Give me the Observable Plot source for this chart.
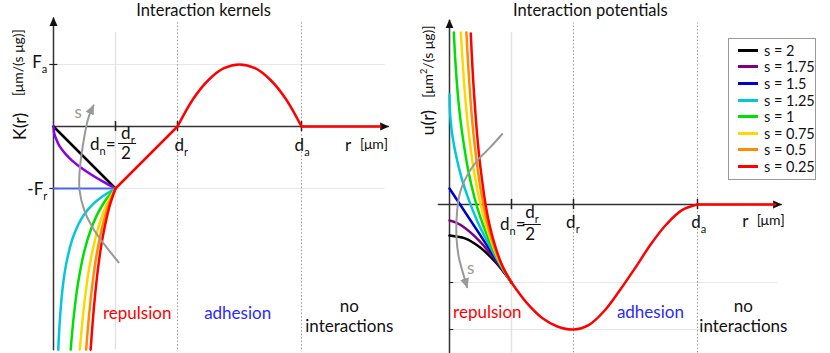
<!DOCTYPE html>
<html><head><meta charset="utf-8">
<script src="https://cdn.jsdelivr.net/npm/d3@7"></script>
<script src="https://cdn.jsdelivr.net/npm/@observablehq/plot@0.6"></script>
<style>
body{margin:0;background:#fff;}
#wrap{position:relative;width:830px;height:353px;font-family:Lato,sans-serif;overflow:hidden;background:#fff;}
#left{position:absolute;left:0;top:0;}
#right{position:absolute;left:415px;top:0;}
#legend{position:absolute;left:728px;top:38px;width:86px;height:137px;border:1px solid #999;background:#fff;box-sizing:content-box;padding-top:3px;}
.row{display:flex;align-items:center;height:16.6px;}
.sw{width:20px;height:3px;margin-left:9px;margin-right:6px;}
.lt{font-size:14.5px;color:#111;font-family:Lato,sans-serif;white-space:nowrap;}
svg{overflow:visible;}
</style></head>
<body><div id="wrap"><div id="left"></div><div id="right"></div><div id="legend"></div></div>
<script>
// ---------- landmarks ----------
const dn = 1, dr = 2, da = 4;
const Fa = 1, Fr = 1;

// ---------- series ----------
const sValues = [2, 1.75, 1.5, 1.25, 1, 0.75, 0.5, 0.25];
const legendLabels = ["s = 2", "s = 1.75", "s = 1.5", "s = 1.25", "s = 1", "s = 0.75", "s = 0.5", "s = 0.25"];
const kernelColors = ["#000000", "#8a00e6", "#4a63f0", "#00c8d8", "#00e000", "#ffd700", "#ff8c00", "#ff0000"];
const potentialColors = ["#000000", "#800080", "#0000cc", "#00c8d8", "#00e000", "#ffd700", "#ff8c00", "#ff0000"];

// kernel K(r) for r in [0, dn], one array per s  ([r, K])
const kernelS2 = [[0, 0], [1, -1]];
const kernelS175 = [[0, 0], [0.01, -0.1], [0.03, -0.17], [0.06, -0.24], [0.1, -0.32], [0.2, -0.45], [0.3, -0.55], [0.45, -0.67], [0.6, -0.77], [0.8, -0.89], [1, -1]];
const kernelS15 = [[0, -1], [1, -1]];
const kernelS125 = [[0.077, -3.6], [0.09, -3.33], [0.12, -2.89], [0.15, -2.58], [0.2, -2.24], [0.3, -1.83], [0.4, -1.58], [0.5, -1.41], [0.65, -1.24], [0.8, -1.12], [1, -1]];
const kernelS1 = [[0.278, -3.6], [0.3, -3.33], [0.35, -2.86], [0.4, -2.5], [0.5, -2], [0.6, -1.67], [0.7, -1.43], [0.8, -1.25], [0.9, -1.11], [1, -1]];
const kernelS075 = [[0.425, -3.6], [0.45, -3.31], [0.5, -2.83], [0.55, -2.45], [0.6, -2.15], [0.7, -1.71], [0.8, -1.4], [0.9, -1.17], [1, -1]];
const kernelS05 = [[0.527, -3.6], [0.55, -3.31], [0.6, -2.78], [0.65, -2.37], [0.7, -2.04], [0.8, -1.56], [0.9, -1.23], [1, -1]];
const kernelS025 = [[0.599, -3.6], [0.65, -2.94], [0.7, -2.44], [0.75, -2.05], [0.8, -1.75], [0.9, -1.3], [1, -1]];
// common kernel part (red)
const kernelRepulsion = [[1, -1], [2, 0]];
const kernelAdhesion = [[2, 0], [2.25, 0.44], [2.5, 0.75], [2.75, 0.94], [3, 1], [3.25, 0.94], [3.5, 0.75], [3.75, 0.44], [4, 0]];
const kernelTail = [[4, 0], [5.27, 0]];

// potential u(r) for r in [0, dn]  ([r, u])
const potS2 = [[0, -0.33], [0.1, -0.34], [0.25, -0.36], [0.5, -0.46], [0.75, -0.62], [1, -0.83]];
const potS175 = [[0, -0.17], [0.1, -0.19], [0.25, -0.25], [0.5, -0.4], [0.75, -0.6], [1, -0.83]];
const potS15 = [[0, 0.17], [1, -0.83]];
const potS125 = [[0, 1.17], [0.005, 1.03], [0.02, 0.88], [0.05, 0.72], [0.1, 0.54], [0.2, 0.27], [0.3, 0.07], [0.45, -0.18], [0.6, -0.38], [0.8, -0.62], [1, -0.83]];
const potS1 = [[0.07, 1.83], [0.1, 1.47], [0.15, 1.06], [0.2, 0.78], [0.3, 0.37], [0.4, 0.08], [0.5, -0.14], [0.65, -0.4], [0.8, -0.61], [1, -0.83]];
const potS075 = [[0.184, 1.83], [0.2, 1.64], [0.25, 1.17], [0.3, 0.82], [0.4, 0.33], [0.5, 0], [0.65, -0.35], [0.8, -0.6], [1, -0.83]];
const potS05 = [[0.273, 1.83], [0.3, 1.5], [0.35, 1.02], [0.4, 0.67], [0.5, 0.17], [0.6, -0.17], [0.7, -0.41], [0.85, -0.66], [1, -0.83]];
const potS025 = [[0.343, 1.82], [0.37, 1.46], [0.4, 1.14], [0.45, 0.71], [0.5, 0.39], [0.6, -0.07], [0.7, -0.36], [0.85, -0.65], [1, -0.83]];
// common potential part (red)
const potCommon = [[1, -0.83], [1.25, -1.05], [1.5, -1.21], [1.75, -1.3], [2, -1.33], [2.25, -1.28], [2.5, -1.13], [2.75, -0.91], [3, -0.67], [3.25, -0.42], [3.5, -0.21], [3.75, -0.06], [4, 0]];
const potTail = [[4, 0], [5.25, 0]];
const uRepulsionLevel = -0.83, uMin = -1.33;

// gray "s" arcs
const kernelArc = [[1.05, -2.19], [0.81, -1.89], [0.63, -1.63], [0.5, -1.36], [0.42, -1.03], [0.42, -0.74], [0.45, -0.47], [0.5, -0.15], [0.56, 0.13], [0.645, 0.34]];
const potArc = [[0.85, 0.75], [0.66, 0.61], [0.45, 0.47], [0.285, 0.31], [0.18, 0.15], [0.124, -0.06], [0.113, -0.35], [0.15, -0.56], [0.205, -0.7], [0.285, -0.88]];

const kernelCurves = [kernelS2, kernelS175, kernelS15, kernelS125, kernelS1, kernelS075, kernelS05, kernelS025];
const potCurves = [potS2, potS175, potS15, potS125, potS1, potS075, potS05, potS025];

// ---------- annotations ----------
const kernelLabels = [
  {t: "Interaction kernels", r: 2.42, v: 1.87, size: 16.5},
  {t: "F_{a}", r: -0.1, v: 1.03, anchor: "end", size: 17},
  {t: "-F_{r}", r: -0.1, v: -1.02, anchor: "end", size: 17},
  {t: "K(r)", r: -0.53, v: 0.0, rotate: -90, size: 18},
  {t: "[μm/(s μg)]", r: -0.56, v: 1.03, rotate: -90, size: 14},
  {t: "d_{n}=", r: 1.0, v: -0.29, anchor: "end", size: 17},
  {t: "d_{r}", r: 1.2, v: -0.11, size: 17},
  {t: "2", r: 1.17, v: -0.43, size: 17},
  {t: "d_{r}", r: 2.06, v: -0.31, size: 17},
  {t: "d_{a}", r: 4.01, v: -0.31, size: 17},
  {t: "r", r: 4.75, v: -0.3, size: 17},
  {t: "[μm]", r: 5.17, v: -0.29, size: 14},
  {t: "s", r: 0.40, v: 0.23, color: "#999", size: 17},
  {t: "repulsion", r: 1.35, v: -3.02, color: "#ff0000", size: 17},
  {t: "adhesion", r: 2.97, v: -3.02, color: "#2a2aff", size: 17},
  {t: "no\ninteractions", r: 4.77, v: -3.05, lh: 1.18, size: 17}
];
const potLabels = [
  {t: "Interaction potentials", r: 2.27, v: 2.06, size: 16.5},
  {t: "u(r)", r: -0.35, v: 0.87, rotate: -90, size: 18},
  {t: "[μm^{2}/(s μg)]", r: -0.34, v: 1.52, rotate: -90, size: 14},
  {t: "d_{n}=", r: 1.226, v: -0.213, anchor: "end", size: 17},
  {t: "d_{r}", r: 1.33, v: -0.09, size: 17},
  {t: "2", r: 1.3, v: -0.32, size: 17},
  {t: "d_{r}", r: 1.99, v: -0.19, size: 17},
  {t: "d_{a}", r: 4.02, v: -0.19, size: 17},
  {t: "r", r: 4.77, v: -0.18, size: 17},
  {t: "[μm]", r: 5.18, v: -0.17, size: 14},
  {t: "s", r: 0.34, v: -0.68, color: "#999", size: 17},
  {t: "repulsion", r: 0.61, v: -1.15, color: "#ff0000", size: 17},
  {t: "adhesion", r: 3.24, v: -1.15, color: "#2a2aff", size: 17},
  {t: "no\ninteractions", r: 4.74, v: -1.18, lh: 1.18, size: 17}
];

// ---------- helpers ----------
const AXIS = "#333333", ARC = "#999999";
function lbl(d) {
  return Plot.text([d], {x: "r", y: "v", text: "t", textAnchor: d.anchor ?? "middle",
    fontSize: d.size ?? 15, fill: d.color ?? "#111", rotate: d.rotate ?? 0, lineHeight: d.lh ?? 1,
    fontFamily: "Lato, sans-serif"});
}
function curve(data, color, w = 2.5, c = "catmull-rom") {
  return Plot.line(data, {stroke: color, strokeWidth: w, curve: c});
}
function richify(svg) {
  d3.select(svg).selectAll("text").each(function () {
    const s = this.textContent;
    if (!/[_^]\{/.test(s)) return;
    const parts = s.split(/([_^]\{[^}]*\})/).filter(p => p.length);
    while (this.firstChild) this.removeChild(this.firstChild);
    let shift = 0;
    for (const p of parts) {
      const m = /^([_^])\{([^}]*)\}$/.exec(p);
      const ts = d3.select(this).append("tspan");
      if (m) {
        const target = m[1] === "_" ? 0.28 : -0.45;
        ts.attr("font-size", "65%").attr("dy", ((target - shift) / 0.65).toFixed(3) + "em").text(m[2]);
        shift = target;
      } else {
        if (shift !== 0) ts.attr("dy", (-shift).toFixed(3) + "em");
        shift = 0;
        ts.text(p);
      }
    }
  });
}
let mk = 0;
function arrowheads(svg) {
  const defs = d3.select(svg).insert("defs", ":first-child");
  const add = (col, size) => {
    const id = "tri" + (mk++);
    defs.append("marker").attr("id", id).attr("viewBox", "0 -5 10 10").attr("refX", 9).attr("refY", 0)
      .attr("markerWidth", size).attr("markerHeight", size).attr("markerUnits", "userSpaceOnUse").attr("orient", "auto")
      .append("path").attr("d", "M0,-4.5L10,0L0,4.5Z").attr("fill", col);
    return id;
  };
  const a = add("#111", 9), g = add(ARC, 10);
  d3.select(svg).selectAll(`g[stroke="${AXIS}"] path`).attr("marker-end", `url(#${a})`);
  d3.select(svg).selectAll(`g[stroke="${ARC}"] path`).attr("marker-end", `url(#${g})`);
}

// ---------- left: kernels ----------
const left = Plot.plot({
  width: 415, height: 353,
  marginLeft: 53, marginRight: 27.2, marginTop: 17.5, marginBottom: 3.8,
  x: {domain: [0, 5.4], axis: null},
  y: {domain: [-3.6, 1.75], axis: null},
  style: {fontFamily: "Lato, sans-serif", background: "transparent", overflow: "visible"},
  marks: [
    Plot.ruleY([Fa, -Fr], {x1: 0, x2: 5.35, stroke: "#e8e8e8", strokeWidth: 1}),
    Plot.ruleX([dn], {y1: -3.6, y2: 1.52, stroke: "#e2e2e2", strokeWidth: 1.5}),
    Plot.ruleX([dr, da], {y1: -3.6, y2: 1.71, stroke: "#9a9a9a", strokeWidth: 1, strokeDasharray: "1.5,2"}),
    Plot.line([[0, 0], [5.4, 0]], {stroke: AXIS, strokeWidth: 1.5}),
    Plot.line([[0, -3.6], [0, 1.75]], {stroke: AXIS, strokeWidth: 1.5}),
    Plot.ruleX([dn, dr, da], {y1: -0.08, y2: 0.08, stroke: "#222", strokeWidth: 1.5}),
    Plot.ruleY([Fa, -Fr], {x1: -0.06, x2: 0.07, stroke: "#222", strokeWidth: 1.2}),
    ...kernelCurves.map((d, i) => curve(d, kernelColors[i], i === 2 ? 2 : 2.5)),
    curve(kernelRepulsion, "#ff0000", 2.5, "linear"),
    curve(kernelAdhesion, "#ff0000", 2.5),
    curve(kernelTail, "#ff0000", 2.5, "linear"),
    Plot.line(kernelArc, {stroke: ARC, strokeWidth: 2, curve: "catmull-rom"}),
    Plot.ruleY([-0.274], {x1: 1.05, x2: 1.34, stroke: "#111", strokeWidth: 1}),
    ...kernelLabels.map(lbl)
  ]
});
richify(left); arrowheads(left);
document.getElementById("left").appendChild(left);

// ---------- right: potentials ----------
const right = Plot.plot({
  width: 415, height: 353,
  marginLeft: 34, marginRight: 49.3, marginTop: 19.76, marginBottom: 0.48,
  x: {domain: [0, 5.35], axis: null},
  y: {domain: [-1.58, 1.96], axis: null},
  style: {fontFamily: "Lato, sans-serif", background: "transparent", overflow: "visible"},
  marks: [
    Plot.ruleY([uRepulsionLevel, uMin], {x1: 0, x2: 5.3, stroke: "#e8e8e8", strokeWidth: 1}),
    Plot.ruleX([dn], {y1: -1.58, y2: 1.83, stroke: "#e2e2e2", strokeWidth: 1.5}),
    Plot.ruleX([dr, da], {y1: -1.58, y2: 1.93, stroke: "#9a9a9a", strokeWidth: 1, strokeDasharray: "1.5,2"}),
    Plot.line([[-0.18, 0], [5.35, 0]], {stroke: AXIS, strokeWidth: 1.5}),
    Plot.line([[0, -1.58], [0, 1.96]], {stroke: AXIS, strokeWidth: 1.5}),
    Plot.ruleX([dn, dr, da], {y1: -0.055, y2: 0.055, stroke: "#222", strokeWidth: 1.5}),
    Plot.ruleY([uRepulsionLevel, uMin], {x1: 0, x2: 0.07, stroke: "#222", strokeWidth: 1}),
    ...potCurves.map((d, i) => curve(d, potentialColors[i], 2.5)),
    curve(potCommon, "#ff0000", 2.5),
    curve(potTail, "#ff0000", 2.5, "linear"),
    Plot.line(potArc, {stroke: ARC, strokeWidth: 2, curve: "catmull-rom"}),
    Plot.ruleY([-0.213], {x1: 1.19, x2: 1.48, stroke: "#111", strokeWidth: 1}),
    ...potLabels.map(lbl)
  ]
});
richify(right); arrowheads(right);
document.getElementById("right").appendChild(right);

// ---------- legend ----------
const leg = d3.select("#legend");
legendLabels.forEach((t, i) => {
  const row = leg.append("div").attr("class", "row");
  row.append("div").attr("class", "sw").style("background", potentialColors[i]);
  row.append("div").attr("class", "lt").text(t);
});
</script>
</body></html>
